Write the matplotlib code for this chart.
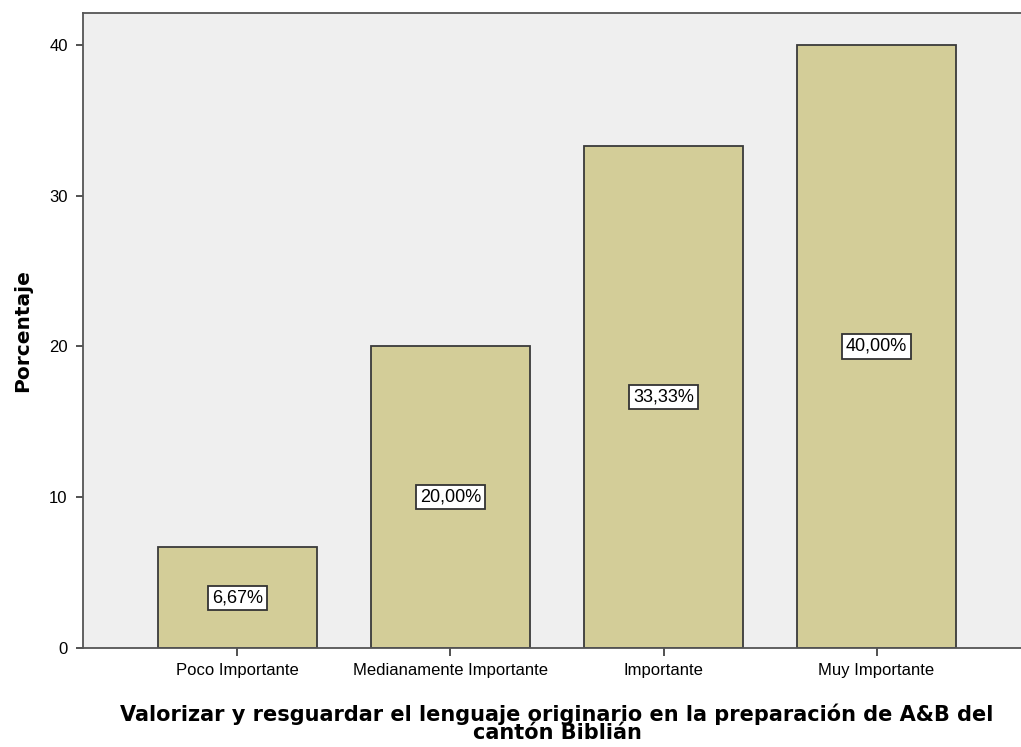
import numpy as np
import matplotlib.pyplot as plt

plt.rcParams['font.family'] = ['Liberation Sans', 'DejaVu Sans']

# Data
categorias = ['Poco Importante', 'Medianamente Importante', 'Importante', 'Muy Importante']
porcentajes = [6.67, 20.00, 33.33, 40.00]
etiquetas = ['6,67%', '20,00%', '33,33%', '40,00%']

fig = plt.figure(figsize=(10.21, 7.47), dpi=100)
# axes extends slightly past the right edge like the original
ax = fig.add_axes([83/1021, 99/747, 948/1021, 635/747])
ax.set_facecolor('#efefef')

x = np.arange(len(categorias))
ax.bar(x, porcentajes, width=0.746, color='#d3cd98', edgecolor='#3a3a3a', linewidth=1.3, zorder=2)

for xi, v, lab in zip(x, porcentajes, etiquetas):
    ax.text(xi, v / 2, lab, ha='center', va='center', fontsize=13, zorder=3,
            bbox=dict(boxstyle='square,pad=0.2', facecolor='white', edgecolor='#333333', linewidth=1.3))

ax.set_xlim(-0.725, 3.725)
ax.set_ylim(0, 42.12)
ax.set_yticks([0, 10, 20, 30, 40])
ax.set_xticks(x)
ax.set_xticklabels(categorias)
ax.tick_params(axis='both', labelsize=12, direction='out', color='#333333', width=1.2)
ax.tick_params(axis='y', length=5, pad=6)
ax.tick_params(axis='x', length=6, pad=5)

for s in ['left', 'bottom', 'top']:
    ax.spines[s].set_color('#555555')
    ax.spines[s].set_linewidth(1.3)
ax.spines['right'].set_visible(False)

ax.set_ylabel('Porcentaje', fontsize=14.5, fontweight='bold', labelpad=12,
              family=['DejaVu Sans'])
ax.set_xlabel('Valorizar y resguardar el lenguaje originario en la preparación de A&B del\ncantón Biblián',
              fontsize=15, fontweight='bold', labelpad=18, linespacing=0.88,
              family=['DejaVu Sans'])

fig.savefig('out.png', dpi=100)
